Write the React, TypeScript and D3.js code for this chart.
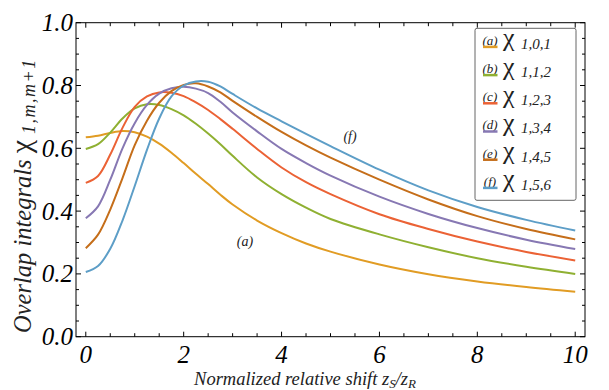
import React from "react";
import * as d3 from "d3";

const X = [0, 0.25, 0.5, 0.75, 1, 1.25, 1.5, 1.75, 2, 2.25, 2.5, 2.75, 3, 3.5, 4, 4.5, 5, 6, 7, 8, 9, 10];

const chiA = [0.635, 0.640, 0.649, 0.655, 0.651, 0.637, 0.615, 0.586, 0.553, 0.519, 0.486, 0.452, 0.421, 0.370, 0.330, 0.297, 0.271, 0.230, 0.199, 0.176, 0.158, 0.143];
const chiB = [0.598, 0.613, 0.650, 0.695, 0.727, 0.740, 0.738, 0.725, 0.705, 0.678, 0.647, 0.613, 0.576, 0.507, 0.454, 0.411, 0.375, 0.326, 0.285, 0.250, 0.223, 0.200];
const chiC = [0.490, 0.512, 0.580, 0.665, 0.732, 0.765, 0.778, 0.777, 0.766, 0.746, 0.722, 0.693, 0.662, 0.598, 0.539, 0.492, 0.454, 0.390, 0.343, 0.303, 0.270, 0.243];
const chiD = [0.377, 0.415, 0.500, 0.600, 0.680, 0.738, 0.774, 0.791, 0.796, 0.790, 0.776, 0.748, 0.714, 0.654, 0.598, 0.553, 0.513, 0.446, 0.391, 0.346, 0.309, 0.279];
const chiE = [0.282, 0.325, 0.405, 0.505, 0.610, 0.688, 0.745, 0.782, 0.802, 0.807, 0.797, 0.778, 0.751, 0.700, 0.652, 0.609, 0.570, 0.500, 0.437, 0.384, 0.343, 0.310];
const chiF = [0.206, 0.225, 0.280, 0.370, 0.480, 0.595, 0.695, 0.765, 0.800, 0.813, 0.812, 0.797, 0.773, 0.727, 0.686, 0.646, 0.607, 0.532, 0.466, 0.413, 0.372, 0.338];

const seriesTags = ["(a)", "(b)", "(c)", "(d)", "(e)", "(f)"];
const seriesSubs = ["1,0,1", "1,1,2", "1,2,3", "1,3,4", "1,4,5", "1,5,6"];
const seriesColors = ["#E19C24", "#8FB032", "#EB6235", "#8778B3", "#C56E1A", "#5D9EC7"];
const seriesValues = [chiA, chiB, chiC, chiD, chiE, chiF];

const xTickLabels = [0, 2, 4, 6, 8, 10];
const yTickLabels = [0, 0.2, 0.4, 0.6, 0.8, 1.0];

const W = 609;
const H = 390;
const L = 76, R = 585, T = 22.7, B = 336.7;
const FONT = "Times New Roman, Tinos, Nimbus Roman, FreeSerif, serif";

export default function App() {
  const x = d3.scaleLinear().domain([-0.2, 10.2]).range([L, R]);
  const y = d3.scaleLinear().domain([0, 1]).range([B, T]);
  const line = d3
    .line<number>()
    .x((_, i) => x(X[i]))
    .y((v) => y(v))
    .curve(d3.curveCatmullRom.alpha(0.5));

  const xMinor = d3.range(0, 10.01, 0.5);
  const yMinor = d3.range(0, 1.001, 0.05);

  const legX = 475, legY = 28.3, legW = 101, legH = 172;
  const rowH = 28.2;

  return (
    <svg width={W} height={H} style={{ position: "absolute", left: 0, top: 0, background: "#fff" }}>
      <rect x={0} y={0} width={W} height={H} fill="#fff" />
      <defs>
        <clipPath id="plotclip">
          <rect x={L} y={T} width={R - L} height={B - T} />
        </clipPath>
      </defs>
      <g clipPath="url(#plotclip)">
        {seriesValues.map((vals, i) => (
          <path key={i} d={line(vals) || ""} fill="none" stroke={seriesColors[i]} strokeWidth={2} />
        ))}
      </g>
      <rect x={L} y={T} width={R - L} height={B - T} fill="none" stroke="#000" strokeWidth={1} />
      {xMinor.map((v, i) => {
        const major = Math.abs(v - Math.round(v)) < 1e-6 && Math.round(v) % 2 === 0;
        const len = major ? 5 : 3.5;
        return (
          <g key={"xt" + i}>
            <line x1={x(v)} x2={x(v)} y1={B} y2={B - len} stroke="#000" strokeWidth={1} />
            <line x1={x(v)} x2={x(v)} y1={T} y2={T + len} stroke="#000" strokeWidth={1} />
          </g>
        );
      })}
      {yMinor.map((v, i) => {
        const major = i % 4 === 0;
        const len = major ? 5 : 3;
        return (
          <g key={"yt" + i}>
            <line x1={L} x2={L + len} y1={y(v)} y2={y(v)} stroke="#000" strokeWidth={1} />
            <line x1={R} x2={R - len} y1={y(v)} y2={y(v)} stroke="#000" strokeWidth={1} />
          </g>
        );
      })}
      {xTickLabels.map((v) => (
        <text key={"xl" + v} x={x(v)} y={363} fontFamily={FONT} fontStyle="italic" fontSize={25} textAnchor="middle" fill="#000">
          {v}
        </text>
      ))}
      {yTickLabels.map((v) => (
        <text key={"yl" + v} x={73} y={y(v) + 8.5} fontFamily={FONT} fontStyle="italic" fontSize={25} textAnchor="end" fill="#000">
          {v.toFixed(1)}
        </text>
      ))}
      <text x={305} y={385} fontFamily={FONT} fontStyle="italic" fontSize={18.5} textAnchor="middle" fill="#222">
        Normalized relative shift z<tspan fontSize={13} dy={3}>S</tspan>
        <tspan dy={-3}>/z</tspan>
        <tspan fontSize={13} dy={3}>R</tspan>
      </text>
      <text
        transform={`translate(31,333) rotate(-90)`}
        fontFamily={FONT}
        fontStyle="italic"
        fontSize={24.5}
        textAnchor="start"
        fill="#222"
      >
        Overlap integrals <tspan fontStyle="normal" fontSize={30}>χ</tspan>
        <tspan fontSize={18} dy={4} letterSpacing={1.5}> 1,m,m+1</tspan>
      </text>
      <text x={245} y={246} fontFamily={FONT} fontStyle="italic" fontSize={14} textAnchor="middle" fill="#222">
        (a)
      </text>
      <text x={350} y={141} fontFamily={FONT} fontStyle="italic" fontSize={14} textAnchor="middle" fill="#222">
        (f)
      </text>
      <rect x={legX} y={legY} width={legW} height={legH} rx={2} ry={2} fill="#fff" stroke="#666" strokeWidth={1} />
      {seriesTags.map((tag, i) => {
        const cy = 43.3 + i * rowH;
        return (
          <g key={"lg" + i}>
            <text x={490} y={cy + 1.5} fontFamily={FONT} fontStyle="italic" fontSize={13} textAnchor="middle" fill="#222">
              {tag}
            </text>
            <line x1={483} x2={497.5} y1={cy + 3.6} y2={cy + 3.6} stroke={seriesColors[i]} strokeWidth={2.5} />
            <text x={503} y={cy + 3} fontFamily={FONT} fontSize={26} fill="#222">
              χ
            </text>
            <text x={521} y={cy + 5.5} fontFamily={FONT} fontStyle="italic" fontSize={15} fill="#222">
              {seriesSubs[i]}
            </text>
          </g>
        );
      })}
    </svg>
  );
}
